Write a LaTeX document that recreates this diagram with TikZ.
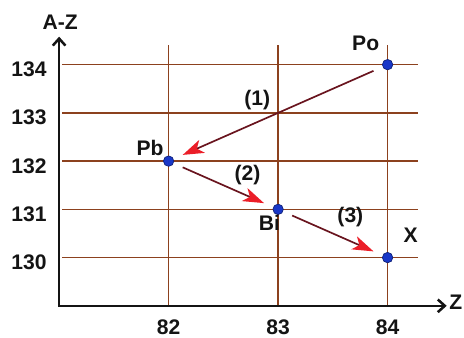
\documentclass[tikz,border=0pt]{standalone}
\usepackage{fontspec}
\setmainfont{Liberation Sans}
\usepackage{tikz}
\usetikzlibrary{arrows.meta}
\definecolor{gridbrown}{RGB}{140,65,30}
\definecolor{arrmaroon}{RGB}{105,20,30}
\definecolor{arrred}{RGB}{235,30,40}
\definecolor{dotblue}{RGB}{25,55,200}
\definecolor{mydark}{RGB}{20,20,20}
\tikzset{
  gridline/.style={color=gridbrown, line width=1pt},
  axis/.style={{Straight Barb[length=5pt,width=9pt]}-{Straight Barb[length=5pt,width=9pt]}, line width=1.8pt, color=mydark},
  nucl/.style={circle, draw=dotblue!60!black, fill=dotblue, minimum size=0.26cm, inner sep=0pt, line width=0.5pt},
  decay/.style={-{Stealth[length=15pt,width=10pt,inset=4pt,color=arrred]}, line width=1.2pt, color=arrmaroon, shorten <=7pt, shorten >=7pt},
  lbl/.style={font=\fontsize{15}{17}\selectfont\bfseries, text=mydark, inner sep=1pt}
}

\begin{document}
\begin{tikzpicture}[x=2.7375cm, y=1.206cm]
  \useasboundingbox (80.461,128.337) rectangle (84.699,135.342);
  % grid
  \foreach \a in {130,...,134}
    \draw[gridline] (81.03,\a) -- (84.28,\a);
  \foreach \z in {82,83,84}
    \draw[gridline] (\z,129) -- (\z,134.4);
  % axes
  \coordinate (origin) at (81,129);
  \coordinate (ytip) at (81,134.58);
  \coordinate (xtip) at (84.54,129);
  \draw[axis] (ytip) -- (origin) -- (xtip);
  \node[lbl] (ylab) at (81.01,134.886) {A-Z};
  \node[lbl, anchor=east] (xlab) at (84.697,129.08) {Z};
  \foreach \a in {130,...,134}
    \node[lbl, anchor=east] at (80.9,\a-0.1) {\a};
  \foreach \z in {82,83,84}
    \node[lbl] at (\z,128.56) {\z};
  % nuclides
  \node[nucl] (Po) at (84,134) {};
  \node[nucl] (Pb) at (82,132) {};
  \node[nucl] (Bi) at (83,131) {};
  \node[nucl] (X) at (84,130) {};
  \node[lbl] (PoLab) at (83.80,134.45) {Po};
  \node[lbl] (PbLab) at (81.83,132.28) {Pb};
  \node[lbl] (BiLab) at (82.92,130.72) {Bi};
  \node[lbl] (XLab) at (84.21,130.47) {X};
  % decays
  \draw[decay] (Po) -- (Pb);
  \draw[decay] (Pb) -- (Bi);
  \draw[decay] (Bi) -- (X);
  \node[lbl] (step1) at (82.81,133.27) {(1)};
  \node[lbl] (step2) at (82.72,131.72) {(2)};
  \node[lbl] (step3) at (83.66,130.85) {(3)};
\end{tikzpicture}
\end{document}
